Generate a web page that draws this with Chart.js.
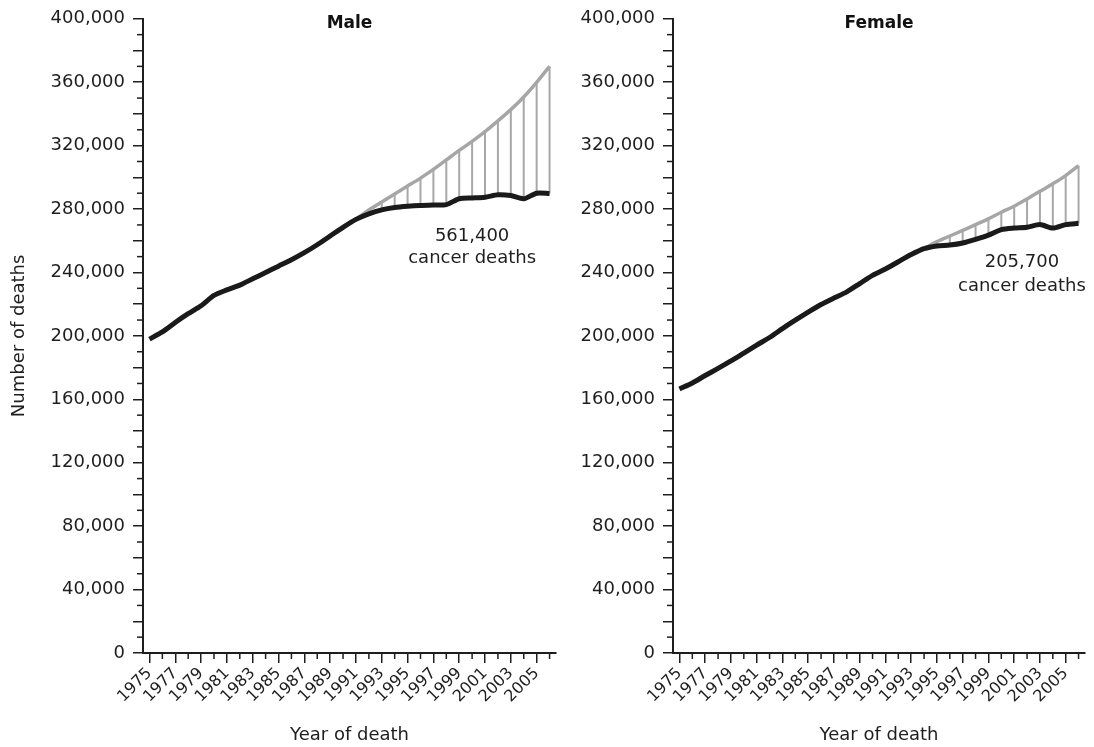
<!DOCTYPE html>
<html><head><meta charset="utf-8">
<script src="https://cdn.jsdelivr.net/npm/chart.js@4.4.1/dist/chart.umd.min.js"></script>
<style>
html,body{margin:0;padding:0;background:#fff;}
#wrap{position:relative;width:1094px;height:747px;overflow:hidden;background:#fff;}
#c1{position:absolute;left:0;top:0;}
#c2{position:absolute;left:572px;top:0;}
</style></head><body>
<div id="wrap"><canvas id="c1" width="572" height="747"></canvas><canvas id="c2" width="522" height="747"></canvas></div>
<script>
// ---------------- data ----------------
const years = [1975,1976,1977,1978,1979,1980,1981,1982,1983,1984,1985,1986,1987,1988,1989,1990,
               1991,1992,1993,1994,1995,1996,1997,1998,1999,2000,2001,2002,2003,2004,2005,2006];
const yearTickLabels = ['1975','1977','1979','1981','1983','1985','1987','1989','1991','1993',
                        '1995','1997','1999','2001','2003','2005'];
const yTickLabels = ['0','40,000','80,000','120,000','160,000','200,000','240,000','280,000',
                     '320,000','360,000','400,000'];
const maleActual = [198000,202500,208500,214000,219000,225500,229000,232000,236000,240000,244000,
                    248000,252500,257500,263000,268500,273500,277000,279500,281000,281800,282300,
                    282500,282800,286500,287000,287500,289000,288500,286500,290000,289800];
const maleExpected = [null,null,null,null,null,null,null,null,null,null,null,null,null,null,null,null,
                      273500,279500,284500,289500,294500,299500,305000,311000,317000,322700,328800,
                      335600,342700,350700,359900,370000];
const femaleActual = [166500,170300,175000,179500,184200,189200,194200,199000,204600,209900,215000,
                      219800,223900,227800,233000,238200,242200,246800,251300,255000,256700,257300,
                      258600,260900,263600,267000,268000,268500,270200,268000,270200,271000];
const femaleExpected = [null,null,null,null,null,null,null,null,null,null,null,null,null,null,null,
                        null,null,null,null,255000,259500,263000,266500,270200,273800,278000,281800,
                        286400,291200,295900,301100,307400];
const panelTitles = ['Male','Female'];
const maleNote = ['561,400','cancer deaths'];
const femaleNote = ['205,700','cancer deaths'];
const xAxisTitle = 'Year of death';
const yAxisTitle = 'Number of deaths';

// ---------------- styling ----------------
const FONT = 'DejaVu Sans';
const INK = '#1e1e1e';
Chart.defaults.font.family = FONT;
Chart.defaults.color = INK;

const deco = {
  id: 'deco',
  beforeDatasetsDraw(chart, args, o) {
    const xs = chart.scales.x, ys = chart.scales.y, ctx = chart.ctx;
    const a = chart.data.datasets[0].data, e = chart.data.datasets[1].data;
    ctx.save();
    ctx.strokeStyle = '#a8a8a8';
    ctx.lineWidth = 2;
    for (let i = 0; i < e.length; i++) {
      if (e[i].y == null || e[i].y - a[i].y < 1) continue;
      const px = xs.getPixelForValue(e[i].x);
      ctx.beginPath();
      ctx.moveTo(px, ys.getPixelForValue(e[i].y));
      ctx.lineTo(px, ys.getPixelForValue(a[i].y));
      ctx.stroke();
    }
    ctx.restore();
  },
  afterDraw(chart, args, o) {
    const xs = chart.scales.x, ys = chart.scales.y, ctx = chart.ctx, ca = chart.chartArea;
    ctx.save();
    ctx.strokeStyle = INK;
    ctx.lineWidth = 1.5;
    for (let v = 10000; v < 400000; v += 20000) {
      const py = ys.getPixelForValue(v);
      ctx.beginPath(); ctx.moveTo(ca.left - 6, py); ctx.lineTo(ca.left, py); ctx.stroke();
    }
    years.forEach(yr => {
      if (yr % 2 === 0) {
        const px = xs.getPixelForValue(yr);
        ctx.beginPath(); ctx.moveTo(px, ca.bottom); ctx.lineTo(px, ca.bottom + 6); ctx.stroke();
      }
    });
    ctx.fillStyle = '#111';
    ctx.font = 'bold 17px "' + FONT + '"';
    ctx.textAlign = 'center';
    ctx.textBaseline = 'alphabetic';
    ctx.fillText(o.title, (ca.left + ca.right) / 2, 28);
    ctx.font = '18px "' + FONT + '"';
    ctx.fillStyle = INK;
    const nx = xs.getPixelForValue(o.noteX);
    o.note.forEach((t, i) => ctx.fillText(t, nx, ys.getPixelForValue(o.noteY[i])));
    ctx.restore();
  }
};

function makeChart(id, actual, expected, opts) {
  const ptsA = years.map((x, i) => ({x, y: actual[i]}));
  const ptsE = years.map((x, i) => ({x, y: expected[i]}));
  return new Chart(document.getElementById(id), {
    type: 'line',
    data: {
      datasets: [
        {data: ptsA, borderColor: '#1a1a1a', borderWidth: 5, pointRadius: 0, tension: 0.25,
         borderCapStyle: 'butt', borderJoinStyle: 'round', fill: false},
        {data: ptsE, borderColor: '#a6a6a6', borderWidth: 3.5, pointRadius: 0, tension: 0.25,
         borderCapStyle: 'butt', borderJoinStyle: 'round', fill: false, spanGaps: false}
      ]
    },
    options: {
      responsive: false,
      animation: false,
      devicePixelRatio: 1,
      layout: {padding: {left: 0, right: opts.padRight, top: 18, bottom: 0}},
      plugins: {
        legend: {display: false},
        tooltip: {enabled: false},
        deco: {title: opts.title, note: opts.note, noteX: opts.noteX, noteY: opts.noteY}
      },
      scales: {
        x: {
          type: 'linear', min: 1974.5, max: 2006.5,
          afterBuildTicks: s => { s.ticks = years.map(v => ({value: v})); },
          afterFit: s => { s.height = 94; },
          border: {display: true, color: INK, width: 2},
          grid: {drawOnChartArea: false, drawTicks: true, tickLength: 10, lineWidth: 1.5,
                 tickColor: c => (c.tick && c.tick.value % 2 === 0) ? 'rgba(0,0,0,0)' : INK},
          ticks: {
            autoSkip: false, minRotation: 45, maxRotation: 45,
            padding: 1, color: INK, font: {size: 16},
            callback: v => yearTickLabels.includes(String(v)) ? String(v) : ''
          },
          title: {display: true, text: xAxisTitle, color: INK, font: {size: 18},
                  padding: {top: 0, bottom: 1}}
        },
        y: {
          min: 0, max: 400000,
          afterFit: s => { s.width = opts.yWidth; },
          border: {display: true, color: INK, width: 2},
          grid: {drawOnChartArea: false, drawTicks: true, tickLength: 10, lineWidth: 1.5, color: INK},
          ticks: {
            stepSize: 20000, padding: 8, color: INK, font: {size: 18},
            callback: v => (v % 40000 === 0) ? yTickLabels[v / 40000] : ''
          },
          title: {display: opts.showYTitle, text: yAxisTitle, color: INK, font: {size: 18},
                  padding: {top: 9, bottom: 0}}
        }
      }
    },
    plugins: [deco]
  });
}

makeChart('c1', maleActual, maleExpected,
  {title: panelTitles[0], note: maleNote, noteX: 2000, noteY: [260100, 245900],
   padRight: 16, yWidth: 143, showYTitle: true});
makeChart('c2', femaleActual, femaleExpected,
  {title: panelTitles[1], note: femaleNote, noteX: 2001.6, noteY: [243300, 228600],
   padRight: 9, yWidth: 101, showYTitle: false});
</script>
</body></html>
